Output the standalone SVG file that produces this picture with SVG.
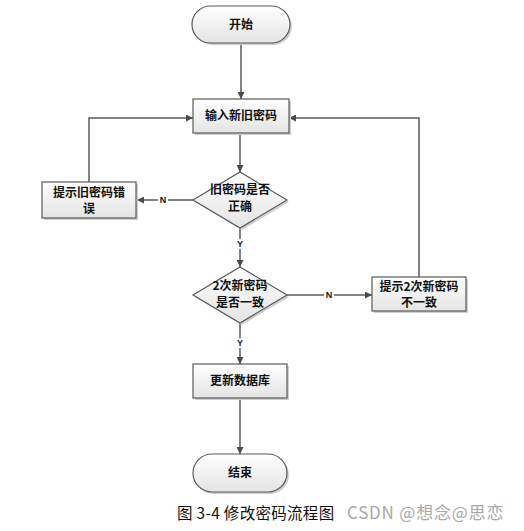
<svg xmlns="http://www.w3.org/2000/svg" width="524" height="531" viewBox="0 0 524 531">
<style>
.shape{fill:url(#g);stroke:#5a5a5a;stroke-width:1.2}
.shadow{fill:#cfcfcf}
.t{font-family:"Noto Sans CJK SC","Noto Sans",sans-serif;font-weight:bold;font-size:12px;fill:#111;text-anchor:middle}
.lbl{font-family:"Liberation Sans",Arial,sans-serif;font-weight:bold;font-size:9px;fill:#111;text-anchor:middle}
.c{fill:none;stroke:#5a5a5a;stroke-width:1.5}
</style>
<defs>
<linearGradient id="g" x1="0" y1="0" x2="0" y2="1">
<stop offset="0" stop-color="#ffffff"/>
<stop offset="1" stop-color="#e4e4e4"/>
</linearGradient>
<marker id="a" viewBox="0 0 10 10" refX="10" refY="5" markerWidth="7" markerHeight="7" markerUnits="userSpaceOnUse" orient="auto">
<path d="M0,0 L10,5 L0,10 z" fill="#4a4a4a"/>
</marker>
</defs>
<rect width="524" height="531" fill="#fff"/>
<g id="connectors">
<path class="c" d="M241,43 V99" marker-end="url(#a)"/>
<path class="c" d="M240,133 V172" marker-end="url(#a)"/>
<path class="c" d="M193,200 H137" marker-end="url(#a)"/>
<path class="c" d="M89,182 V118 H193" marker-end="url(#a)"/>
<path class="c" d="M240,228 V267" marker-end="url(#a)"/>
<path class="c" d="M287,295 H372" marker-end="url(#a)"/>
<path class="c" d="M419,277 V118 H289" marker-end="url(#a)"/>
<path class="c" d="M240,323 V364" marker-end="url(#a)"/>
<path class="c" d="M240,398 V454" marker-end="url(#a)"/>
<rect x="158" y="195" width="10" height="10" fill="#fff"/>
<text class="lbl" x="163" y="203">N</text>
<rect x="235" y="239" width="10" height="10" fill="#fff"/>
<text class="lbl" x="240" y="247">Y</text>
<rect x="324" y="290" width="10" height="10" fill="#fff"/>
<text class="lbl" x="329" y="298">N</text>
<rect x="235" y="338" width="10" height="10" fill="#fff"/>
<text class="lbl" x="240" y="346">Y</text>
</g>
<g id="start">
<rect class="shadow" x="194" y="8" width="98" height="37" rx="18.5"/>
<rect class="shape" x="192" y="6" width="98" height="37" rx="18.5"/>
<text class="t" x="241" y="29">开始</text>
</g>
<g id="input">
<rect class="shadow" x="195" y="101" width="96" height="34"/>
<rect class="shape" x="193" y="99" width="96" height="34"/>
<text class="t" x="241" y="120">输入新旧密码</text>
</g>
<g id="check-old">
<polygon class="shadow" points="242,174 289,202 242,230 195,202"/>
<polygon class="shape" points="240,172 287,200 240,228 193,200"/>
<text class="t" x="240" y="194">旧密码是否</text>
<text class="t" x="240" y="211">正确</text>
</g>
<g id="old-error">
<rect class="shadow" x="44" y="184" width="94" height="36"/>
<rect class="shape" x="42" y="182" width="94" height="36"/>
<text class="t" x="89" y="197">提示旧密码错</text>
<text class="t" x="89" y="213">误</text>
</g>
<g id="check-new">
<polygon class="shadow" points="242,269 289,297 242,325 195,297"/>
<polygon class="shape" points="240,267 287,295 240,323 193,295"/>
<text class="t" x="240" y="290">2次新密码</text>
<text class="t" x="240" y="307">是否一致</text>
</g>
<g id="new-error">
<rect class="shadow" x="374" y="279" width="94" height="34"/>
<rect class="shape" x="372" y="277" width="94" height="34"/>
<text class="t" x="419" y="291">提示2次新密码</text>
<text class="t" x="419" y="307">不一致</text>
</g>
<g id="update">
<rect class="shadow" x="195" y="366" width="94" height="34"/>
<rect class="shape" x="193" y="364" width="94" height="34"/>
<text class="t" x="240" y="385">更新数据库</text>
</g>
<g id="end">
<rect class="shadow" x="195" y="456" width="94" height="38" rx="19"/>
<rect class="shape" x="193" y="454" width="94" height="38" rx="19"/>
<text class="t" x="240" y="477">结束</text>
</g>
<text x="177" y="519" font-family="'Noto Sans CJK SC',sans-serif" font-size="15.5" letter-spacing="0.3" fill="#111">图 3-4 修改密码流程图</text>
<text x="347" y="519" font-family="'Noto Sans CJK SC','Liberation Sans',sans-serif" font-size="17" letter-spacing="0.8" fill="#a8a8a8">CSDN @想念@思恋</text>
</svg>
